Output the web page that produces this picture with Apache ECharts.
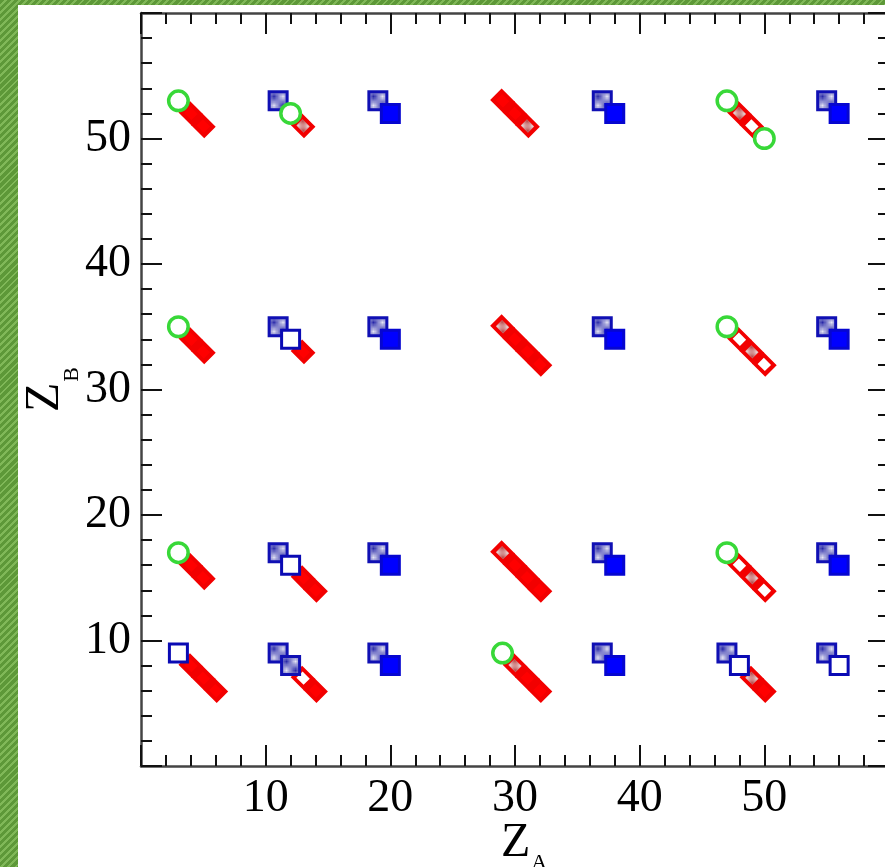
<!DOCTYPE html>
<html><head><meta charset="utf-8">
<script src="https://cdn.jsdelivr.net/npm/echarts@6/dist/echarts.min.js"></script>
<style>
html,body{margin:0;padding:0;width:885px;height:867px;overflow:hidden;}
body{background:repeating-linear-gradient(135deg,#5d9838 0px,#5d9838 3px,#80b858 3px,#80b858 5px);position:relative;}
#panel{position:absolute;left:18px;top:5px;width:867px;height:862px;background:#fff;}
#chart{position:absolute;left:0;top:0;width:885px;height:867px;}
</style></head><body>
<div id="panel"></div><div id="chart"></div>
<script>
// axis ranges and tick labels
const xRange = [0, 60];
const yRange = [0, 60];
const xTickLabels = ['10', '20', '30', '40', '50'];
const yTickLabels = ['10', '20', '30', '40', '50'];

// red diagonal chain (solid filled)
const redSolid = [
  [4,52],[5,51],[29,53],[30,52],
  [4,34],[5,33],[13,33],[30,34],[31,33],[32,32],
  [4,16],[5,15],[13,15],[14,14],[30,16],[31,15],[32,14],
  [4,8],[5,7],[6,6],[14,6],[31,7],[32,6],[50,6]
];
// red chain, open (white inside)
const redOpen = [
  [49,51],[48,34],[50,32],[48,16],[50,14],[13,7]
];
// red chain, hatched
const redHatched = [
  [13,51],[31,51],[48,52],[29,35],[49,33],[29,17],[49,15],[30,8],[49,7]
];
// blue squares
const blueHatched = [
  [11,53],[19,53],[37,53],[55,53],
  [11,35],[19,35],[37,35],[55,35],
  [11,17],[19,17],[37,17],[55,17],
  [11,9],[12,8],[19,9],[37,9],[47,9],[55,9]
];
const blueSolid = [
  [20,52],[38,52],[56,52],
  [20,34],[38,34],[56,34],
  [20,16],[38,16],[56,16],
  [20,8],[38,8]
];
const blueOpen = [
  [12,34],[12,16],[3,9],[48,8],[56,8]
];
// green open circles
const greenCircles = [
  [3,53],[12,52],[47,53],[50,50],
  [3,35],[47,35],
  [3,17],[47,17],
  [29,9]
];

function checker(c1, c2) {
  const cv = document.createElement('canvas');
  cv.width = 2; cv.height = 2;
  const g = cv.getContext('2d');
  g.fillStyle = c2; g.fillRect(0, 0, 2, 2);
  g.fillStyle = c1; g.fillRect(0, 0, 1, 1); g.fillRect(1, 1, 1, 1);
  return { image: cv, repeat: 'repeat' };
}

const FONT = 'Liberation Serif';
const axisLineStyle = { color: '#444', width: 2.5 };
const tickStyle = { color: '#111', width: 2 };

function makeAxis(pos, range, labels, showLabels, extra) {
  return Object.assign({
    type: 'value', min: range[0], max: range[1], interval: 10, position: pos,
    axisLine: { show: true, onZero: false, lineStyle: axisLineStyle },
    axisTick: { show: true, inside: true, length: 21, lineStyle: tickStyle },
    minorTick: { show: true, splitNumber: 5, length: 11, lineStyle: tickStyle },
    splitLine: { show: false }, minorSplitLine: { show: false },
    axisLabel: {
      show: showLabels, margin: 10, color: '#000', fontFamily: FONT, fontSize: 46,
      formatter: v => labels.indexOf(String(v)) >= 0 ? String(v) : ''
    }
  }, extra || {});
}

function nameStyle(pad, zLeft) {
  return {
    color: '#000', fontFamily: FONT,
    rich: {
      z: { fontFamily: FONT, fontSize: 48, color: '#000', padding: [0, 0, 0, zLeft] },
      s: { fontFamily: FONT, fontSize: 22, color: '#000', padding: [pad, 0, 0, 1] }
    }
  };
}

const redBase = { type: 'scatter', symbol: 'rect', symbolSize: [14.5, 12.5], symbolRotate: -45, silent: true };
const blueBase = { type: 'scatter', symbol: 'rect', symbolSize: 18, silent: true };

const option = {
  animation: false,
  grid: { left: 141, top: 13, right: -4, bottom: 101, containLabel: false, outerBoundsMode: 'none' },
  xAxis: [
    makeAxis('bottom', xRange, xTickLabels, true, {
      name: '{z|Z}{s|A}', nameLocation: 'middle', nameGap: 46, nameMoveOverlap: false, nameTextStyle: nameStyle(40, 18)
    }),
    makeAxis('top', xRange, xTickLabels, false)
  ],
  yAxis: [
    makeAxis('left', yRange, yTickLabels, true, {
      name: '{z|Z}{s|B}', nameLocation: 'middle', nameGap: 58, nameMoveOverlap: false, nameTextStyle: nameStyle(54, 0)
    }),
    makeAxis('right', yRange, yTickLabels, false)
  ],
  series: [
    Object.assign({}, redBase, { data: redSolid, itemStyle: { opacity: 1, color: '#ff0000', borderColor: '#f20000', borderWidth: 4 } }),
    Object.assign({}, redBase, { data: redOpen, itemStyle: { opacity: 1, color: '#ffffff', borderColor: '#f20000', borderWidth: 4 } }),
    Object.assign({}, redBase, { data: redHatched, itemStyle: { opacity: 1, color: checker('#b84848', '#ecd4d4'), borderColor: '#f20000', borderWidth: 4 } }),
    Object.assign({}, blueBase, { data: blueHatched, itemStyle: { opacity: 1, color: checker('#2828a8', '#e4e4f4'), borderColor: '#1010b4', borderWidth: 3 } }),
    Object.assign({}, blueBase, { data: blueSolid, itemStyle: { opacity: 1, color: '#0000ff', borderColor: '#0606d0', borderWidth: 3 } }),
    Object.assign({}, blueBase, { data: blueOpen, itemStyle: { opacity: 1, color: '#ffffff', borderColor: '#0a0ab4', borderWidth: 3 } }),
    { type: 'scatter', symbol: 'circle', symbolSize: 19.5, silent: true, data: greenCircles,
      itemStyle: { opacity: 1, color: '#ffffff', borderColor: '#38d838', borderWidth: 3.5 } }
  ]
};

const chart = echarts.init(document.getElementById('chart'), null, { renderer: 'canvas' });
chart.setOption(option);
</script>
</body></html>
